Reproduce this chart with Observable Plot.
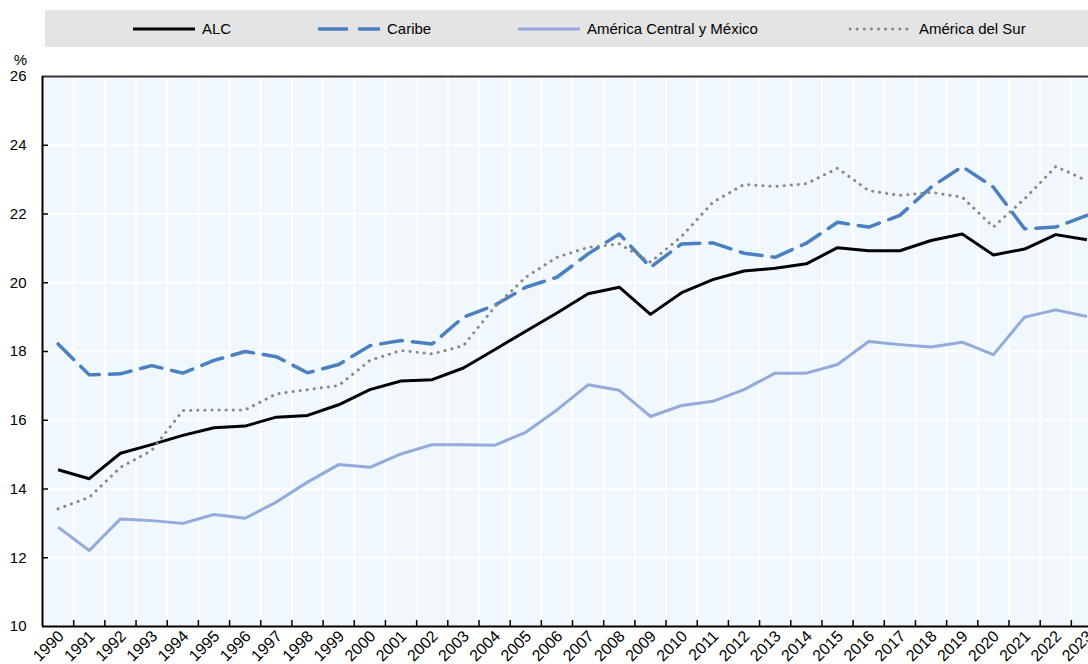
<!DOCTYPE html>
<html>
<head>
<meta charset="utf-8">
<script src="https://cdn.jsdelivr.net/npm/d3@7"></script>
<script src="https://cdn.jsdelivr.net/npm/@observablehq/plot@0.6"></script>
<style>
  html, body { margin: 0; padding: 0; background: #fff; overflow: hidden; }
  body { width: 1088px; height: 664px; position: relative; font-family: "Liberation Sans", Arial, sans-serif; }
  #legend { position: absolute; left: 45px; top: 10px; width: 1043px; height: 37px; background: #e4e4e4; }
  .item { position: absolute; top: 0; height: 37px; display: flex; align-items: center; font-size: 15px; color: #000; white-space: nowrap; }
  .item svg { margin-right: 6px; }
  #chart { position: absolute; left: 0; top: 47px; }
</style>
</head>
<body>
<div id="legend"></div>
<div id="chart"></div>
<script>
const years = d3.range(1990, 2024);
const seriesNames = ["ALC", "Caribe", "América Central y México", "América del Sur"];
const alc = [14.56, 14.30, 15.04, 15.29, 15.56, 15.78, 15.83, 16.09, 16.14, 16.45, 16.89, 17.14, 17.18, 17.52, 18.05, 18.59, 19.12, 19.68, 19.87, 19.08, 19.71, 20.09, 20.34, 20.42, 20.55, 21.02, 20.93, 20.93, 21.23, 21.42, 20.81, 20.98, 21.40, 21.25];
const caribe = [18.22, 17.32, 17.35, 17.59, 17.37, 17.74, 18.00, 17.85, 17.38, 17.62, 18.17, 18.32, 18.22, 19.00, 19.34, 19.87, 20.16, 20.84, 21.42, 20.45, 21.13, 21.16, 20.86, 20.74, 21.15, 21.76, 21.62, 21.96, 22.78, 23.38, 22.78, 21.57, 21.62, 21.96];
const centralMexico = [12.89, 12.21, 13.13, 13.08, 13.00, 13.26, 13.15, 13.62, 14.20, 14.71, 14.63, 15.02, 15.29, 15.29, 15.27, 15.65, 16.30, 17.03, 16.87, 16.11, 16.43, 16.55, 16.89, 17.37, 17.37, 17.62, 18.29, 18.20, 18.13, 18.27, 17.91, 19.00, 19.21, 19.02];
const sur = [13.42, 13.76, 14.63, 15.12, 16.28, 16.30, 16.30, 16.77, 16.89, 17.01, 17.74, 18.03, 17.93, 18.17, 19.29, 20.16, 20.74, 21.03, 21.13, 20.60, 21.35, 22.34, 22.86, 22.80, 22.88, 23.33, 22.68, 22.54, 22.63, 22.49, 21.62, 22.44, 23.38, 22.97];
const yTicks = [10, 12, 14, 16, 18, 20, 22, 24, 26];
const yUnit = "%";

const styles = [
  {stroke: "#000000", strokeWidth: 3, dash: null, cap: "butt"},
  {stroke: "#4a80c0", strokeWidth: 3.5, dash: "22,10", cap: "round"},
  {stroke: "#92abdc", strokeWidth: 3, dash: null, cap: "butt"},
  {stroke: "#888888", strokeWidth: 3, dash: "0.1,7", cap: "round"}
];
const seriesValues = [alc, caribe, centralMexico, sur];

const data = [];
seriesNames.forEach((name, s) => years.forEach((yr, i) => data.push({series: name, year: yr, value: seriesValues[s][i]})));

const halfYears = years.slice(0, -1).map(y => y + 0.5);
const xMin = 1989.5, xMax = 2023.05;
const tickLenX = 6 / 31.16;      // in year units
const tickLenY = 6 / 34.375;     // in value units
const FONT = "'Liberation Sans', Arial, sans-serif";

const lineMarks = seriesNames.map((name, s) => Plot.line(data.filter(d => d.series === name), {
  x: "year", y: "value",
  stroke: styles[s].stroke, strokeWidth: styles[s].strokeWidth,
  strokeDasharray: styles[s].dash, strokeLinecap: styles[s].cap, strokeLinejoin: "round"
}));

const chart = Plot.plot({
  width: 1088,
  height: 617,
  marginLeft: 42,
  marginRight: 0,
  marginTop: 29,
  marginBottom: 38,
  style: {fontFamily: FONT, fontSize: "15px", color: "#000", background: "transparent", overflow: "visible"},
  x: {domain: [xMin, xMax], axis: null, label: null},
  y: {domain: [10, 26], axis: null, label: null},
  marks: [
    Plot.rect([0], {x1: xMin, x2: xMax, y1: 10, y2: 26, fill: "#f0f8fd"}),
    Plot.ruleX(halfYears, {y1: 10, y2: 26, stroke: "#ffffff", strokeWidth: 2}),
    Plot.ruleY(yTicks.slice(1, -1), {x1: xMin, x2: xMax, stroke: "#ffffff", strokeWidth: 2}),
    ...lineMarks,
    Plot.ruleX(halfYears, {y1: 10, y2: 10 + tickLenY, stroke: "#000", strokeWidth: 1.5}),
    Plot.ruleY(yTicks.slice(1, -1), {x1: xMin, x2: xMin + tickLenX, stroke: "#000", strokeWidth: 1.5}),
    Plot.ruleY([26], {x1: xMin, x2: xMax, stroke: "#333", strokeWidth: 2}),
    Plot.ruleY([10], {x1: xMin, x2: xMax, stroke: "#000", strokeWidth: 2}),
    Plot.ruleX([xMin], {y1: 10, y2: 26, stroke: "#000", strokeWidth: 2}),
    Plot.text(yTicks, {x: xMin, y: d => d, text: d => String(d), textAnchor: "end", dx: -16, fontSize: 15, fill: "#000"}),
    Plot.text(years, {x: d => d, y: 10, text: d => String(d), textAnchor: "end", rotate: -45, dx: 3, dy: 7, fontSize: 16, fill: "#000"}),
    Plot.text([yUnit], {frameAnchor: "top-left", dx: -22, dy: -22, textAnchor: "middle", fontSize: 15, fill: "#000"})
  ]
});
document.getElementById("chart").appendChild(chart);

// Legend
const legend = document.getElementById("legend");
const legendPos = [87, 272, 472, 804];
seriesNames.forEach((name, s) => {
  const st = styles[s];
  const div = document.createElement("div");
  div.className = "item";
  div.style.left = legendPos[s] + "px";
  const sw = d3.create("svg").attr("width", 64).attr("height", 10);
  sw.append("line").attr("x1", 1).attr("x2", 63).attr("y1", 5).attr("y2", 5)
    .attr("stroke", st.stroke).attr("stroke-width", st.strokeWidth)
    .attr("stroke-dasharray", s === 1 ? "30,10" : st.dash)
    .attr("stroke-linecap", s === 3 ? "round" : "butt");
  div.appendChild(sw.node());
  const t = document.createElement("span");
  t.textContent = name;
  div.appendChild(t);
  legend.appendChild(div);
});
</script>
</body>
</html>
